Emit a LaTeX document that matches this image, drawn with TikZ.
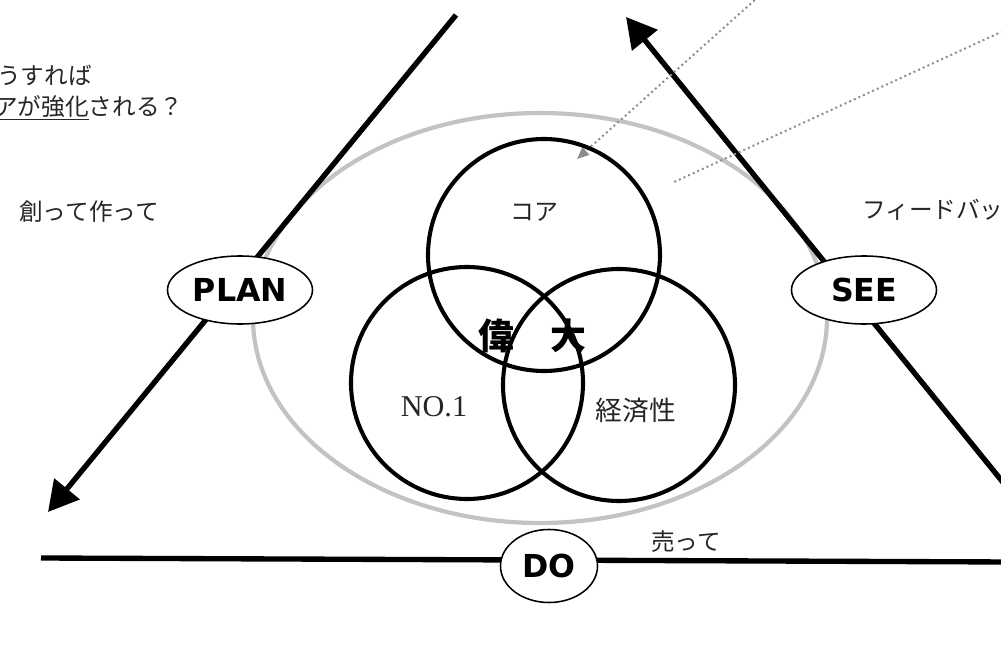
\documentclass[tikz,border=0pt]{standalone}
\usepackage{fontspec}
\usetikzlibrary{arrows.meta,shapes.geometric}
\newfontfamily\jpfont{Noto Sans CJK JP}
\newfontfamily\capfont{DejaVu Sans}
\newfontfamily\minfont{Liberation Serif}
\definecolor{RingGray}{HTML}{C3C3C3}
\definecolor{DotGray}{HTML}{8C8C8C}
\definecolor{TextDark}{HTML}{262626}

\begin{document}
\begin{tikzpicture}[x=0.025cm,y=-0.025cm]
    \tikzset{stage/.style={ellipse,draw,line width=1.1pt,fill=white,inner sep=0pt,
      font=\capfont\bfseries\fontsize{22.5}{22.5}\selectfont},
      loopline/.style={line width=3.8pt},
      venn/.style={line width=2.9pt},
      memo/.style={inner sep=0pt,text=TextDark,font=\jpfont\fontsize{16.8}{16.8}\selectfont},
      hint/.style={DotGray,line width=1.4pt,dash pattern=on 1.4pt off 2.2pt},
      bigtip/.style={-{Triangle[length=0.75cm,width=0.8cm]}}}
    \useasboundingbox (0,0) rectangle (1001,663);
    \fill[white] (0,0) rectangle (1001,663);
    \clip (0,0) rectangle (1001,663);

    % outer ring
    \draw[RingGray,line width=3pt] (540,318) ellipse [x radius=287,y radius=205];

    % plan - do - see cycle
    \coordinate (planstart) at (456,15);
    \coordinate (planend) at (48,512);
    \coordinate (dostart) at (41,558);
    \coordinate (doend) at (1010,562);
    \coordinate (seestart) at (1010,491);
    \coordinate (seeend) at (626,17);
    \draw[loopline,bigtip] (planstart) -- (planend);
    \draw[loopline] (dostart) -- (doend);
    \draw[loopline,bigtip] (seestart) -- (seeend);

    % pointers
    \coordinate (hinta) at (766,-10);
    \coordinate (hintb) at (577,159);
    \coordinate (hintc) at (1012,27);
    \coordinate (hintd) at (672,183);
    \draw[hint,-{Triangle[length=0.3cm,width=0.25cm]}] (hinta) -- (hintb);
    \draw[hint] (hintc) -- (hintd);

    % venn
    \draw[venn] (544,255) circle [radius=116];
    \draw[venn] (467,383) circle [radius=116];
    \draw[venn] (619,385) circle [radius=116];

    \node[stage,minimum width=3.625cm,minimum height=1.7cm] (plan) at (240,290) {PLAN};
    \node[stage,minimum width=3.625cm,minimum height=1.7cm] (see) at (864,290) {SEE};
    \node[stage,minimum width=2.425cm,minimum height=1.825cm] (do) at (549,566) {DO};

    \node[inner sep=0pt,text=TextDark,font=\jpfont\fontsize{17}{17}\selectfont] (core) at (534,212) {コア};
    \node[inner sep=0pt,text=TextDark,font=\minfont\fontsize{21.5}{21.5}\selectfont] (no) at (434,407) {NO.1};
    \node[inner sep=0pt,text=TextDark,font=\jpfont\fontsize{19}{19}\selectfont] (econ) at (636,410) {経済性};
    \node[inner sep=0pt,font=\jpfont\bfseries\fontsize{25.5}{25.5}\selectfont] (great) at (496,336) {偉};
    \node[inner sep=0pt,font=\jpfont\bfseries\fontsize{25.5}{25.5}\selectfont] (big) at (568,336) {大};

    % notes
    \node[memo,anchor=west] (howa) at (-3,75) {うすれば};
    \node[memo,anchor=west] (howb) at (-6,108) {\underline{アが強化}される？};
    \node[memo] (make) at (89,212) {創って作って};
    \node[memo,anchor=west] (feed) at (862,210) {フィードバッ};
    \node[memo] (sell) at (686,542) {売って};
  \end{tikzpicture}
\end{document}
